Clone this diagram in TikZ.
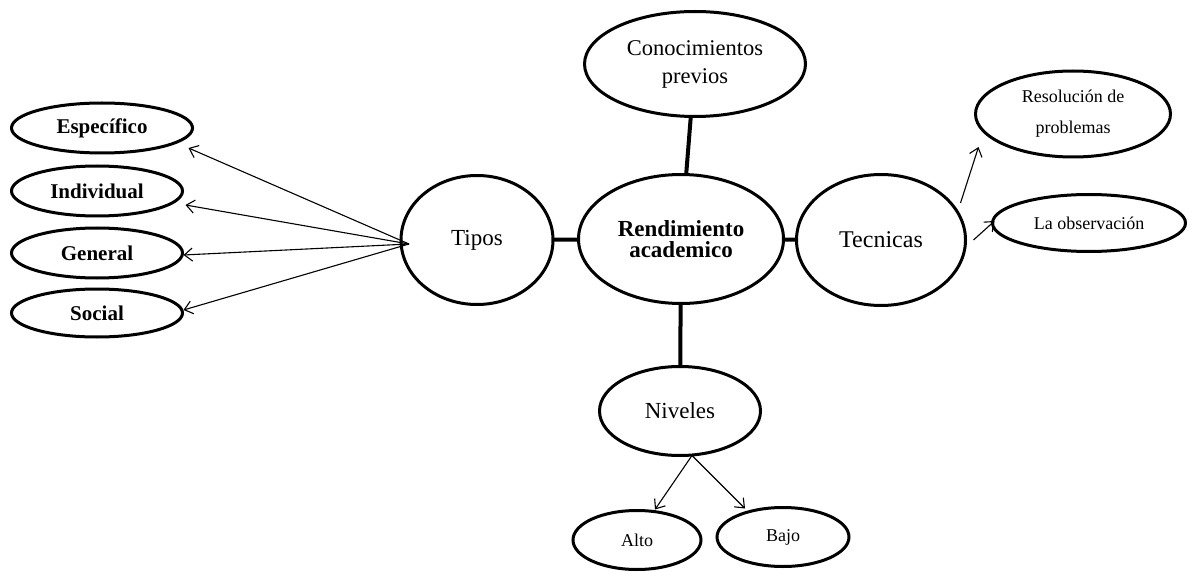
\documentclass[tikz,border=0pt]{standalone}
\usepackage{fontspec}
\setmainfont{Liberation Serif}
\usetikzlibrary{shapes.geometric,arrows.meta,calc}
\begin{document}
\begin{tikzpicture}[x=1pt,y=-1pt,
  oval/.style={ellipse,draw,line width=3pt,inner sep=0pt,outer sep=0pt,align=center},
  small/.style={oval,font=\fontsize{21}{22}\selectfont\bfseries},
  link/.style={line width=4pt},
  arr/.style={line width=1.1pt,-{Straight Barb[length=8pt,width=13pt,line width=1.1pt]}}]
\useasboundingbox (0,0) rectangle (1194,572);
% central nodes
\node[oval,minimum width=205pt,minimum height=129pt,font=\fontsize{23}{21}\selectfont\bfseries] (rend) at (681,239) {Rendimiento\\academico};
\node[oval,minimum width=221pt,minimum height=105pt,font=\fontsize{22.5}{28}\selectfont] (con) at (695,64) {Conocimientos\\previos};
\node[oval,minimum width=152pt,minimum height=129pt,font=\fontsize{23}{24}\selectfont] (tipos) at (477,240) {Tipos};
\node[oval,minimum width=169pt,minimum height=131pt,font=\fontsize{24}{24}\selectfont] (tec) at (881,240) {Tecnicas};
\node[oval,minimum width=161pt,minimum height=89pt,font=\fontsize{23}{24}\selectfont] (niv) at (680,411) {Niveles};
% right
\node[oval,minimum width=195pt,minimum height=86pt,font=\fontsize{18}{31}\selectfont] (res) at (1073,114) {Resolución de\\problemas};
\node[oval,minimum width=193pt,minimum height=57pt,font=\fontsize{18}{20}\selectfont] (obs) at (1089,223) {La observación};
% bottom
\node[oval,minimum width=128pt,minimum height=59pt,font=\fontsize{18}{20}\selectfont] (alto) at (637,540) {Alto};
\node[oval,minimum width=132pt,minimum height=59pt,font=\fontsize{18}{20}\selectfont] (bajo) at (783,537) {Bajo};
% left
\node[small,minimum width=181pt,minimum height=50pt] (esp) at (102,128) {Específico};
\node[small,minimum width=171pt,minimum height=50pt] (ind) at (97,191) {Individual};
\node[small,minimum width=171pt,minimum height=50pt] (gen) at (97,253) {General};
\node[small,minimum width=171pt,minimum height=48pt] (soc) at (97,313) {Social};
% thick links
\draw[link] (con) -- (rend);
\draw[link] (tipos) -- (rend);
\draw[link] (rend) -- (tec);
\draw[link] (rend) -- (niv);
% arrows from Tipos
\coordinate (tl) at ($(tipos.west)+(8,4)$);
\draw[arr] (tl) -- ($(esp.east)+(-4,20)$);
\draw[arr] (tl) -- ($(ind.east)+(3,14)$);
\draw[arr] (tl) -- ($(gen.east)+(1,2)$);
\draw[arr] (tl) -- ($(soc.east)+(1,-3)$);
% arrows from Tecnicas
\draw[arr] ($(tec.east)+(-5,-37)$) -- ($(res.west)+(3,33)$);
\draw[arr] ($(tec.east)+(8,0)$) -- ($(obs.west)+(2,-2)$);
% arrows from Niveles
\coordinate (nb) at ($(niv.south)+(12,0)$);
\draw[arr] (nb) -- ($(alto.north)+(18,-1)$);
\draw[arr] (nb) -- ($(bajo.north)+(-38,1)$);
\end{tikzpicture}
\end{document}
